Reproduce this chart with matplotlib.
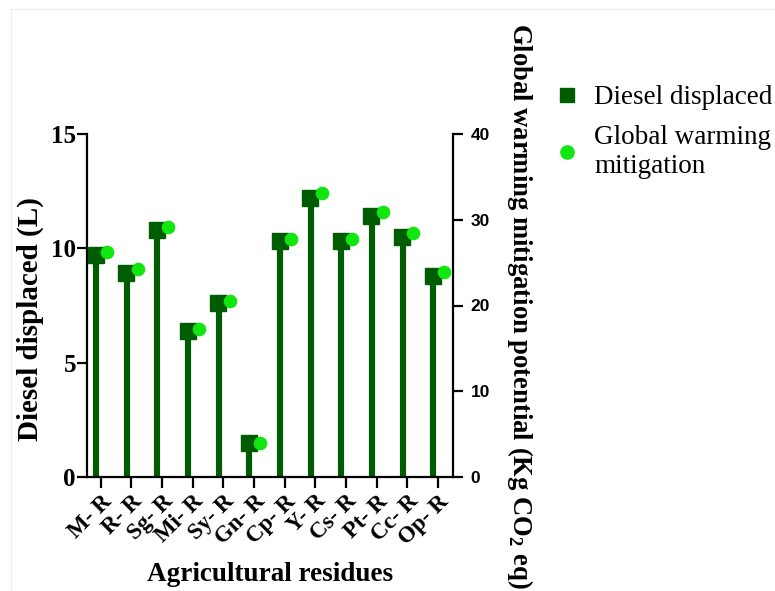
import matplotlib
matplotlib.use("Agg")
import matplotlib.pyplot as plt
from matplotlib.lines import Line2D
import numpy as np

categories = ["M- R", "R- R", "Sg- R", "Mi- R", "Sy- R", "Gn- R",
              "Cp- R", "Y- R", "Cs- R", "Pt- R", "Cc- R", "Op- R"]
diesel = [9.7, 8.9, 10.8, 6.4, 7.6, 1.5, 10.3, 12.2, 10.3, 11.4, 10.5, 8.8]
gwm = [26.2, 24.2, 29.2, 17.3, 20.5, 4.0, 27.8, 33.1, 27.8, 30.9, 28.5, 23.9]

dark = "#005c00"
light = "#11e611"
serif = "Liberation Serif"
sans = "Liberation Sans"

plt.rcParams["font.family"] = serif

fig = plt.figure(figsize=(7.75, 5.91), dpi=100)
ax = fig.add_axes([87/775, 1-477/591, (452.7-87)/775, (477-134)/591])
ax2 = ax.twinx()

x = np.arange(len(categories))
ax.bar(x - 0.17, diesel, width=0.23, color=dark, edgecolor="white", linewidth=0.6, zorder=2)
ax.plot(x - 0.17, diesel, ls="none", marker="s", ms=11, color=dark, zorder=3)
ax2.plot(x + 0.2, gwm, ls="none", marker="o", ms=8.8, color=light, zorder=4)
ax2.set_zorder(ax.get_zorder() + 1)
ax2.patch.set_visible(False)

ax.set_xlim(-0.45, 11.48)
ax.set_ylim(0, 15)
ax2.set_ylim(0, 40)

ax.set_yticks([0, 5, 10, 15])
ax2.set_yticks([0, 10, 20, 30, 40])
ax.set_xticks(x)
ax.set_xticklabels(categories, rotation=45, ha="right", rotation_mode="anchor",
                   fontsize=16.5, fontweight="bold", family=serif)
for lab in ax.get_yticklabels():
    lab.set_fontsize(18); lab.set_fontweight("bold"); lab.set_family(serif)
for lab in ax2.get_yticklabels():
    lab.set_fontsize(12.5); lab.set_fontweight("bold"); lab.set_family(sans)

for s in ["top", "right"]:
    ax.spines[s].set_visible(False)
for s in ["top", "left", "bottom"]:
    ax2.spines[s].set_visible(False)
for a in (ax, ax2):
    for s in a.spines.values():
        s.set_linewidth(1.6)
ax.tick_params(axis="x", length=8, width=1.6, pad=2)
ax.tick_params(axis="y", length=7, width=1.6, pad=1)
ax2.tick_params(axis="y", length=7, width=1.6, pad=6)

ax.set_xlabel("Agricultural residues", fontsize=19.5, fontweight="bold", family=serif)
ax.xaxis.label.set_va("center")
ax.xaxis.set_label_coords(0.5, -0.285)
ax.set_ylabel("Diesel displaced (L)", fontsize=21, fontweight="bold", family=serif)
ax.yaxis.label.set_va("center")
ax.yaxis.set_label_coords(-0.156, 0.46)
ax2.set_ylabel(r"Global warming mitigation potential (Kg CO$_{\mathregular{2}}$ eq)",
               fontsize=19.2, fontweight="bold", family=serif, rotation=270)
ax2.yaxis.label.set_va("center")
ax2.yaxis.set_label_coords(1.184, 0.5)

handles = [Line2D([], [], ls="none", marker="s", ms=9.5, color=dark),
           Line2D([], [], ls="none", marker="o", ms=9.5, color=light)]
fig.legend(handles, ["Diesel displaced", "Global warming\nmitigation"],
           loc="upper left", bbox_to_anchor=(0.683, 0.897), frameon=False,
           prop={"family": serif, "size": 19.5}, handletextpad=0.5,
           labelspacing=0.55, handlelength=1.0)

fig.add_artist(Line2D([11/775, 11/775], [0, 1-9/591], color="#ececec", lw=0.8, transform=fig.transFigure))
fig.add_artist(Line2D([11/775, 1], [1-9/591, 1-9/591], color="#ececec", lw=0.8, transform=fig.transFigure))

fig.savefig("out.png", dpi=100)
